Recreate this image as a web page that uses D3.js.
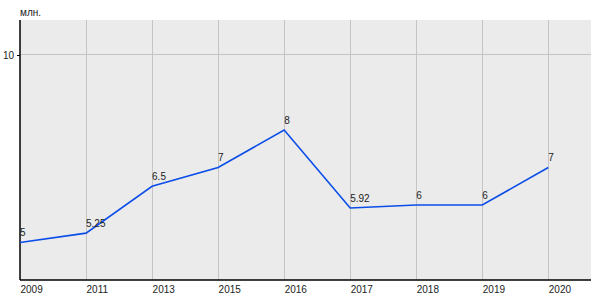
<!DOCTYPE html>
<html><head><meta charset="utf-8">
<script src="https://cdn.jsdelivr.net/npm/d3@7"></script>
<style>body{margin:0;background:#fff}svg{display:block;font-family:"Liberation Sans",Arial,sans-serif}</style>
</head><body><svg id="c" width="600" height="300"></svg>
<script>
const years = ["2009","2011","2013","2015","2016","2017","2018","2019","2020"];
const values = [5, 5.25, 6.5, 7, 8, 5.92, 6, 6, 7];
const valueLabels = ["5","5.25","6.5","7","8","5.92","6","6","7"];
const yTicks = [10];
const unitLabel = "млн.";

const svg = d3.select("#c");
const L = 20, R = 591, T = 20, B = 280;
const x = d3.scalePoint().domain(years).range([L, 548.3]);
const y = d3.scaleLinear().domain([4, 10.933]).range([B, T]);

svg.append("rect").attr("x", L).attr("y", T).attr("width", R - L).attr("height", B - T).attr("fill", "#ebebeb");

// vertical gridlines
svg.append("g").selectAll("line").data(years.slice(1)).join("line")
  .attr("x1", d => x(d)).attr("x2", d => x(d)).attr("y1", T).attr("y2", B)
  .attr("stroke", "#c4c4c4").attr("stroke-width", 1).attr("shape-rendering", "crispEdges");
// horizontal gridlines
svg.append("g").selectAll("line").data(yTicks).join("line")
  .attr("x1", L).attr("x2", R).attr("y1", d => y(d)).attr("y2", d => y(d))
  .attr("stroke", "#c4c4c4").attr("stroke-width", 1).attr("shape-rendering", "crispEdges");

// y axis
const yAxis = d3.axisLeft(y).tickValues(yTicks).tickSize(3).tickFormat(d3.format("d"));
const gy = svg.append("g").attr("transform", `translate(${L},0)`).call(yAxis);
gy.select(".domain").remove();
gy.selectAll("text").attr("font-size", 10).attr("fill", "#222").attr("font-family", "Liberation Sans, Arial, sans-serif");
gy.selectAll("line").attr("stroke", "#000");
svg.append("line").attr("x1", L).attr("x2", L).attr("y1", T).attr("y2", B).attr("stroke", "#000").attr("stroke-width", 1.5);
svg.append("line").attr("x1", L).attr("x2", R).attr("y1", B).attr("y2", B).attr("stroke", "#000").attr("stroke-width", 1.5);

// x labels
const xAxis = d3.axisBottom(x).tickSize(0).tickPadding(0);
const gx = svg.append("g").attr("transform", `translate(0,${B})`).call(xAxis);
gx.select(".domain").remove();
gx.selectAll("text").attr("text-anchor", "start").attr("dy", null).attr("y", 13)
  .attr("font-size", 10).attr("fill", "#222").attr("font-family", "Liberation Sans, Arial, sans-serif");

svg.append("text").attr("x", L).attr("y", 16).attr("font-size", 10).attr("fill", "#222").text(unitLabel);

// line
const line = d3.line().x((d, i) => x(years[i])).y(d => y(d));
svg.append("path").datum(values).attr("d", line).attr("fill", "none")
  .attr("stroke", "#0a4de8").attr("stroke-width", 1.6);

// value labels
svg.append("g").selectAll("text").data(values).join("text")
  .attr("x", (d, i) => x(years[i])).attr("y", d => y(d) - 6)
  .attr("font-size", 10).attr("fill", "#222").text((d, i) => valueLabels[i]);
</script></body></html>
